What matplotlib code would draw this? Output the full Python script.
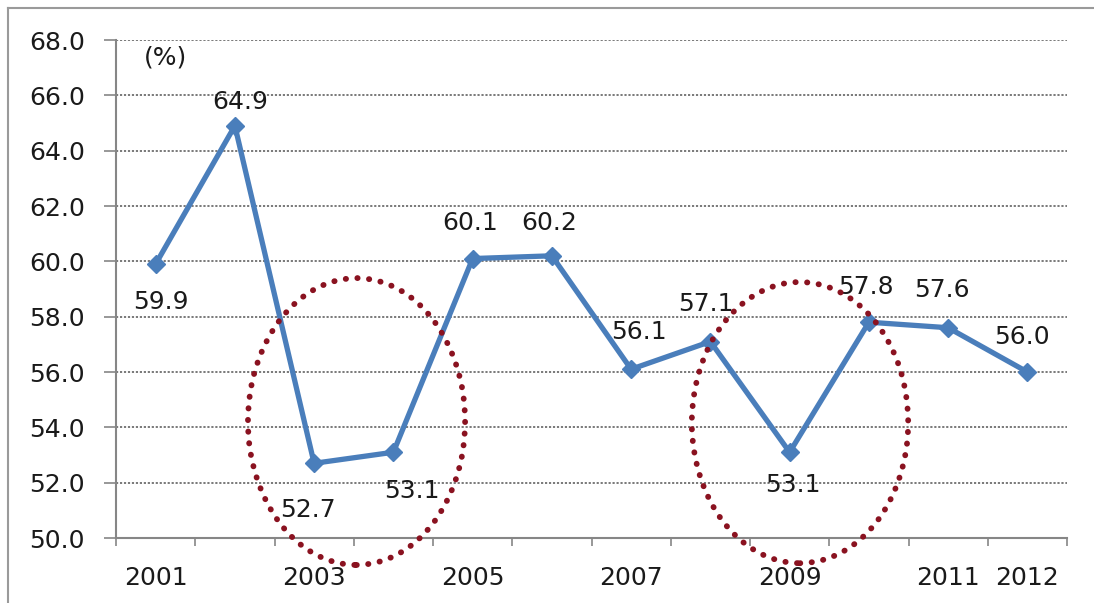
import matplotlib
matplotlib.use("Agg")
import matplotlib.pyplot as plt
from matplotlib.patches import Ellipse
from matplotlib.lines import Line2D

# Annual values (%)
years = [2001, 2002, 2003, 2004, 2005, 2006, 2007, 2008, 2009, 2010, 2011, 2012]
values = [59.9, 64.9, 52.7, 53.1, 60.1, 60.2, 56.1, 57.1, 53.1, 57.8, 57.6, 56.0]
year_labels = ["2001", "", "2003", "", "2005", "", "2007", "", "2009", "", "2011", "2012"]
y_ticks = [50, 52, 54, 56, 58, 60, 62, 64, 66, 68]

# label placement in pixels (dx, dy) relative to each point
label_offsets = [(5, -38), (5, 24), (-6, -47), (19, -39), (-3, 36), (-3, 33),
                 (8, 37), (-4, 38), (3, -33), (-3, 35), (-6, 38), (-5, 35)]

line_color = "#4A7EBB"
text_color = "#1a1a1a"
font_size = 18

plt.rcParams["font.family"] = ["DejaVu Sans"]

fig = plt.figure(figsize=(10.94, 6.03), dpi=100)
ax = fig.add_axes([116 / 1094, 1 - 538 / 603, (1067 - 116) / 1094, (538 - 40) / 603])

x = list(range(len(years)))
ax.plot(x, values, color=line_color, lw=3.8, marker="D", ms=9,
        markeredgecolor=line_color, markerfacecolor=line_color, zorder=4,
        solid_joinstyle="miter")

for xi, v, (dx, dy) in zip(x, values, label_offsets):
    ax.annotate(f"{v:.1f}", (xi, v), xytext=(dx, dy), textcoords="offset pixels",
                ha="center", va="center", fontsize=font_size, color=text_color, zorder=5)

ax.set_xlim(-0.5, len(years) - 0.5)
ax.set_ylim(50, 68)

# y axis
ax.set_yticks(y_ticks)
ax.set_yticklabels([f"{t:.1f}" for t in y_ticks])
ax.tick_params(axis="y", direction="out", length=8.5, width=1.2, color="#868686",
               pad=14, labelsize=font_size, labelcolor=text_color)

# x axis: tick marks on category boundaries, labels on category centres
ax.set_xticks([i - 0.5 for i in range(len(years) + 1)])
ax.set_xticklabels([])
ax.set_xticks(x, minor=True)
ax.set_xticklabels(year_labels, minor=True)
ax.tick_params(axis="x", which="major", direction="out", length=6, width=1.2, color="#868686")
ax.tick_params(axis="x", which="minor", length=0, pad=20, labelsize=font_size,
               labelcolor=text_color)

for side in ("top", "right"):
    ax.spines[side].set_visible(False)
for side in ("left", "bottom"):
    ax.spines[side].set_color("#868686")
    ax.spines[side].set_linewidth(1.5)

ax.yaxis.grid(True, color="#6e6e6e", linestyle=(0, (1.2, 1.0)), linewidth=1.3)
ax.set_axisbelow(True)

# unit label, placed in display pixels
ax.text(165, 603 - 58, "(%)", transform=None, fontsize=font_size, color=text_color,
        ha="center", va="center")

# highlight ellipses around the two dips
for cx, cy, w, h in [(2.535, 54.21, 2.74, 10.37), (8.131, 54.17, 2.73, 10.16)]:
    e = Ellipse((cx, cy), w, h, fill=False, edgecolor="#8a1220", linewidth=4.2,
                linestyle=(0, (0.05, 1.95)), capstyle="round", clip_on=False, zorder=6)
    ax.add_patch(e)

# outer frame lines (top and left)
fig.add_artist(Line2D([8 / 1094, 8 / 1094], [0, 1 - 8 / 603], color="#9a9a9a", lw=1.5))
fig.add_artist(Line2D([8 / 1094, 1], [1 - 8 / 603, 1 - 8 / 603], color="#9a9a9a", lw=1.5))

fig.savefig("out.png", dpi=100, facecolor="white")
